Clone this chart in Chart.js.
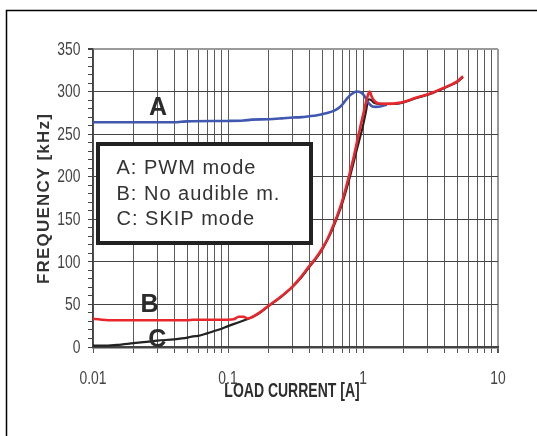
<!DOCTYPE html>
<html><head><meta charset="utf-8">
<script src="https://cdn.jsdelivr.net/npm/chart.js@4/dist/chart.umd.min.js"></script>
<style>html,body{margin:0;padding:0;background:#fff;}canvas{display:block;}</style>
</head><body>
<canvas id="c" width="537" height="436"></canvas>
<script>
// ---- data ----
const xTickValues = [0.01,0.02,0.03,0.04,0.05,0.06,0.07,0.08,0.09,
  0.1,0.2,0.3,0.4,0.5,0.6,0.7,0.8,0.9,1,2,3,4,5,6,7,8,9,10];
const xLabelValues = [0.01,0.1,1,10];
const yLabelValues = [0,50,100,150,200,250,300,350];

const pwmX = [0.01,0.02,0.04,0.045,0.05,0.1,0.13,0.15,0.2,0.25,0.3,0.35,0.4,0.45,0.5,0.55,0.6,0.65,0.7,0.75,0.8,0.85,0.9,0.95,1.0,1.05,1.1,1.16,1.25,1.34,1.5];
const pwmY = [264,264,264,264.5,265,265.5,266,267,267.5,268.5,269.5,270,271,272,273.5,275,277,280,284.5,290.5,295.5,298.5,300,299.5,297,292,286.5,283,282,282.5,284.5];

const noAudX = [0.01,0.011,0.013,0.02,0.03,0.05,0.055,0.08,0.1,0.11,0.12,0.13,0.14,0.15,0.17,0.2,0.25,0.3,0.35,0.4,0.45,0.5,0.55,0.6,0.65,0.7,0.75,0.8,0.85,0.9,0.95,1.0,1.05,1.1,1.12,1.16,1.2,1.3,1.5,1.9,2.1,2.5,3.3,4.4,5,5.5];
const noAudY = [33,32.5,31.5,31.5,31.5,31.5,32,32,32,32.5,35.5,35.5,33.5,35,40,48.5,60,71,83,95,105,116,128,142,156,171,188,205,222,240,257,272,287,298,300,294,290,286,285.5,287,289,293,299,307.5,312,318];

const skipX = [0.01,0.012,0.015,0.02,0.025,0.03,0.04,0.05,0.055,0.06,0.07,0.08,0.09,0.1,0.12,0.14,0.15,0.17,0.2,0.25,0.3,0.35,0.4,0.45,0.5,0.55,0.6,0.65,0.7,0.75,0.8,0.85,0.9,0.95,1.0,1.05,1.1,1.15,1.2,1.3,1.5,1.9,2.1,2.5,3.3,4.4,5,5.5];
const skipY = [1.5,1.5,2.5,4.5,6,7.5,9,11,12.5,13,16,19,21.5,24.5,29,33,35,39.5,48,59.5,70.5,82,94,104,115,127,140,154,168,184,200,216,232,246,260,276,291,290,287,285.5,285.5,286.5,288.5,292.5,298.5,307,311.5,317];

const legendLines = ["A: PWM mode","B: No audible m.","C: SKIP mode"];
const curveLabels = ["A","B","C"];
const curveLabelAt = [[0.0303,283],[0.0262,51.3],[0.0299,10.2]];
const xTitle = "LOAD CURRENT [A]";
const yTitle = "FREQUENCY [kHz]";

const SANS = "'Liberation Sans',Arial,sans-serif";

function pts(xs, ys){ return xs.map((x,i)=>({x:x, y:ys[i]})); }

function condensedText(ctx, text, x, y, sx, align){
  ctx.save();
  ctx.translate(x, y);
  ctx.scale(sx, 1);
  ctx.textAlign = align;
  ctx.fillText(text, 0, 0);
  ctx.restore();
}

const decor = {
  id:'decor',
  afterDatasetsDraw(chart){
    const ctx = chart.ctx, xs = chart.scales.x, ys = chart.scales.y;
    ctx.save();
    ctx.font = "bold 25px " + SANS;
    ctx.fillStyle = '#2b2b2b';
    ctx.textAlign = 'center'; ctx.textBaseline = 'alphabetic';
    curveLabels.forEach((t,i)=>{
      ctx.fillText(t, xs.getPixelForValue(curveLabelAt[i][0]), ys.getPixelForValue(curveLabelAt[i][1]) + 9);
    });
    ctx.fillStyle = '#fff';
    ctx.fillRect(98,144,213,99);
    ctx.lineWidth = 4; ctx.strokeStyle = '#222';
    ctx.strokeRect(98,144,213,99);
    ctx.fillStyle = '#333';
    ctx.font = "20px " + SANS;
    ctx.textAlign = 'left';
    ctx.letterSpacing = '1px';
    legendLines.forEach((t,i)=>{ ctx.fillText(t, 116.5, 174.3 + i*25.4); });
    ctx.letterSpacing = '0px';
    ctx.restore();
  },
  afterDraw(chart){
    const ctx = chart.ctx, xs = chart.scales.x, ys = chart.scales.y;
    ctx.save();
    ctx.strokeStyle = '#000'; ctx.lineWidth = 1.5;
    ctx.strokeRect(6.5,10.5,700,600);
    ctx.fillStyle = '#444';
    ctx.font = "19px " + SANS;
    ctx.textBaseline = 'middle';
    yLabelValues.forEach(v=>{ condensedText(ctx, String(v), 80.5, ys.getPixelForValue(v)+0.5, 0.73, 'right'); });
    xLabelValues.forEach(v=>{ condensedText(ctx, String(v), xs.getPixelForValue(v), 378.5, 0.73, 'center'); });
    ctx.fillStyle = '#2e2e2e';
    ctx.font = "bold 20px " + SANS;
    condensedText(ctx, xTitle, 292, 391, 0.7, 'center');
    ctx.translate(44.5, 198.5);
    ctx.rotate(-Math.PI/2);
    ctx.fillStyle = '#333';
    ctx.font = "bold 17px " + SANS;
    ctx.textAlign = 'center';
    ctx.letterSpacing = '1.2px';
    ctx.fillText(yTitle, 0, 0);
    ctx.restore();
  }
};

new Chart(document.getElementById('c'), {
  type: 'line',
  data: {
    datasets: [
      {label:'B', data:pts(noAudX,noAudY), borderColor:'#e8262b', borderWidth:2.6, order:1},
      {label:'A', data:pts(pwmX,pwmY), borderColor:'#4058b0', borderWidth:2.6, order:2},
      {label:'C', data:pts(skipX,skipY), borderColor:'#222', borderWidth:2.2, order:3}
    ]
  },
  options: {
    responsive:false, animation:false, devicePixelRatio:1,
    parsing:false,
    elements:{ point:{radius:0}, line:{cubicInterpolationMode:'monotone', fill:false} },
    layout:{ padding:{left:0, top:49, right:39, bottom:0} },
    plugins:{ legend:{display:false}, tooltip:{enabled:false}, title:{display:false} },
    scales:{
      x:{
        type:'logarithmic', min:0.01, max:10,
        afterBuildTicks(s){ s.ticks = xTickValues.map(v=>({value:v})); },
        afterFit(s){ s.height = 89; },
        ticks:{ display:false, autoSkip:false },
        grid:{ color(c){ return c.tick && c.tick.value===10 ? '#9a9a9a' : '#5a5a5a'; },
               lineWidth(c){ return c.tick && c.tick.value===10 ? 2 : 1; },
               tickLength:6, tickColor:'#555', drawTicks:true },
        border:{ display:true, color:'#444', width:2.5 }
      },
      y:{
        min:0, max:350,
        afterFit(s){ s.width = 93; },
        ticks:{ display:false, stepSize:10, autoSkip:false },
        grid:{ color(c){ const v=c.tick?c.tick.value:0; if(v%50!==0) return 'rgba(0,0,0,0)'; return v===350?'#9a9a9a':'#444'; },
               lineWidth(c){ return c.tick && c.tick.value===350 ? 2 : 1; },
               tickLength:5, tickColor:'#444', drawTicks:true },
        border:{ display:true, color:'#444', width:1.5 }
      }
    }
  },
  plugins:[decor]
});
</script>
</body></html>
